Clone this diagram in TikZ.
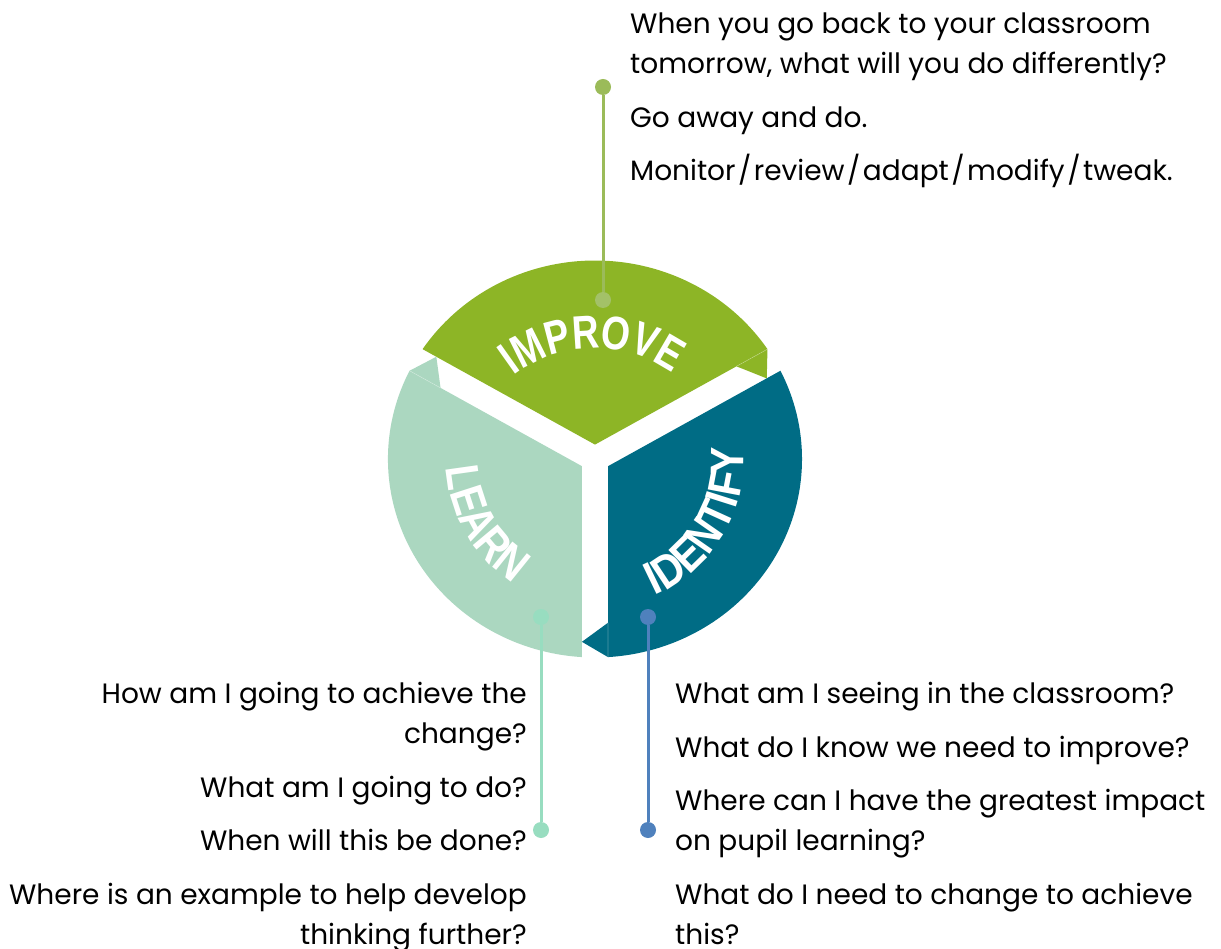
\documentclass[tikz,border=0pt]{standalone}
\usepackage{fontspec}
\setmainfont{Poppins}
\newfontfamily\segfont{Liberation Sans}[FakeStretch=0.86]
\newfontfamily\topsegfont{Liberation Sans}[FakeStretch=0.79]
\usetikzlibrary{calc,decorations.text}

\definecolor{improvegreen}{HTML}{8DB526}
\definecolor{learnmint}{HTML}{ABD7C0}
\definecolor{identifyteal}{HTML}{006C85}
\definecolor{improveline}{HTML}{9BBB59}
\definecolor{improvedot}{HTML}{A3C168}
\definecolor{learnline}{HTML}{98DDC0}
\definecolor{identifyline}{HTML}{4F81BD}

\newcommand\slsep{\kern2.5pt/\kern2.5pt}

\tikzset{
  qtext/.style={inner sep=0pt, font=\fontsize{28}{40}\selectfont},
  dot/.style={circle, inner sep=0pt, minimum size=16pt, fill=#1},
  stem/.style={line width=3pt, draw=#1},
  seglabel/.style={decorate, decoration={text along path, text align=center,
    text color=white, text={|\segfont\bfseries\fontsize{47}{47}\selectfont|#1}}},
  topseglabel/.style={decorate, decoration={text along path, text align=center,
    text color=white, text={|\topsegfont\bfseries\fontsize{47}{47}\selectfont|#1}}}
}

\begin{document}
\begin{tikzpicture}[x=1pt,y=1pt]
\useasboundingbox (0,0) rectangle (1221,-949);

% the three segments of the cycle
\begin{scope}[shift={(595,-459)}, xscale=1.043]
  \foreach \a/\col/\nm in {30/improvegreen/imp, 150/learnmint/lea, 270/identifyteal/ide}{
    \pgfmathsetmacro\oa{\a+60}
    \pgfmathsetmacro\sa{\a+3.6}
    \pgfmathsetmacro\ea{\a+116.4}
    \coordinate (\nm-o) at (\oa:14.4);
    \coordinate (\nm-s) at (\sa:198.5);
    \fill[\col] (\nm-o) -- (\nm-s) arc[start angle=\sa, end angle=\ea, radius=198.5] -- cycle;
    % small tab pointing into the gap
    \coordinate (\nm-b) at ($(\nm-o)!0.82!(\nm-s)$);
    \coordinate (\nm-m) at ($(\nm-o)!0.92!(\nm-s)$);
    \coordinate (\nm-t) at ($(\nm-m)!25pt!-90:(\nm-s)$);
    \fill[\col] (\nm-b) -- (\nm-t) -- (\nm-s) -- cycle;
    \draw[white, opacity=.3, line width=.6pt] (\nm-b) -- (\nm-s);
  }
\end{scope}

% curved labels
\path[topseglabel=IMPROVE] (595,-482) ++(152:134) arc[start angle=152, end angle=30, radius=134];
\path[seglabel=LEARN] (595,-459) ++(168:149) arc[start angle=168, end angle=252, radius=149];
\path[seglabel=IDENTIFY] (595,-459) ++(-78:149) arc[start angle=-78, end angle=16, radius=149];

% callout stems
\node[dot=improveline] (imp-top) at (603,-87) {};
\node[dot=improvedot] (imp-bot) at (603,-300) {};
\node[dot=learnline] (lea-top) at (541,-617) {};
\node[dot=learnline] (lea-bot) at (541,-830) {};
\node[dot=identifyline] (ide-top) at (648,-617) {};
\node[dot=identifyline] (ide-bot) at (648,-830) {};
\draw[stem=improveline] (imp-top) -- (imp-bot);
\draw[stem=learnline] (lea-top) -- (lea-bot);
\draw[stem=identifyline] (ide-top) -- (ide-bot);

% questions
\node[qtext, anchor=north west, align=left] (imp-text) at (630,-13)
  {When you go back to your classroom\\tomorrow, what will you do differently?\\[13.5pt]
   Go away and do.\\[13.5pt]Monitor\slsep review\slsep adapt\slsep modify\slsep tweak.};
\node[qtext, anchor=north east, align=right] (lea-text) at (527,-682)
  {How am I going to achieve the\\change?\\[13.5pt]What am I going to do?\\[13.5pt]
   When will this be done?\\[13.5pt]Where is an example to help develop\\thinking further?};
\node[qtext, anchor=north west, align=left] (ide-text) at (675,-682)
  {What am I seeing in the classroom?\\[13.5pt]What do I know we need to improve?\\[13.5pt]
   Where can I have the greatest impact\\on pupil learning?\\[13.5pt]
   What do I need to change to achieve\\this?};
\end{tikzpicture}
\end{document}
